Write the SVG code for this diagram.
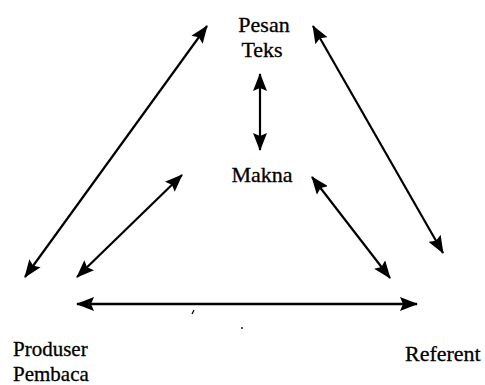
<svg xmlns="http://www.w3.org/2000/svg" width="485" height="385" viewBox="0 0 485 385">
  <style>
    .lbl { font-family: "Times New Roman", "Liberation Serif", "DejaVu Serif", Tinos, "Nimbus Roman", FreeSerif, serif; font-size: 22px; fill: #000; stroke: #000; stroke-width: 0.3; }
    .con { stroke: #000; stroke-width: 2.2; fill: none; marker-start: url(#ah); marker-end: url(#ah); }
    .speck { stroke: #000; stroke-width: 1.2; fill: none; }
  </style>
  <defs>
    <marker id="ah" viewBox="0 0 18 14" refX="17" refY="7" markerWidth="18" markerHeight="14" markerUnits="userSpaceOnUse" orient="auto-start-reverse">
      <path d="M0,0 L18,7 L0,14 L3,7 z" fill="#000"/>
    </marker>
  </defs>
  <rect width="485" height="385" fill="#fff"/>
  <g id="connectors">
    <line class="con" x1="207" y1="26" x2="25" y2="277"/>
    <line class="con" x1="313" y1="26" x2="443" y2="253"/>
    <line class="con" x1="260" y1="74" x2="260" y2="150"/>
    <line class="con" x1="182" y1="175" x2="77" y2="277"/>
    <line class="con" x1="312" y1="177" x2="390" y2="278"/>
    <line class="con" x1="77" y1="304" x2="417" y2="304" style="stroke-width:2.6"/>
  </g>
  <g id="pesan-teks">
    <text class="lbl" x="264" y="32" text-anchor="middle">Pesan</text>
    <text class="lbl" x="262" y="57" text-anchor="middle">Teks</text>
  </g>
  <g id="makna">
    <text class="lbl" x="262" y="182" text-anchor="middle">Makna</text>
  </g>
  <g id="produser-pembaca">
    <text class="lbl" x="13" y="356" style="font-size:21px">Produser</text>
    <text class="lbl" x="13" y="381" style="font-size:21px">Pembaca</text>
  </g>
  <g id="referent">
    <text class="lbl" x="405" y="361">Referent</text>
  </g>
  <g id="specks">
    <line class="speck" x1="192" y1="314" x2="194" y2="310"/>
    <circle cx="242" cy="328" r="0.9" fill="#000"/>
  </g>
</svg>
